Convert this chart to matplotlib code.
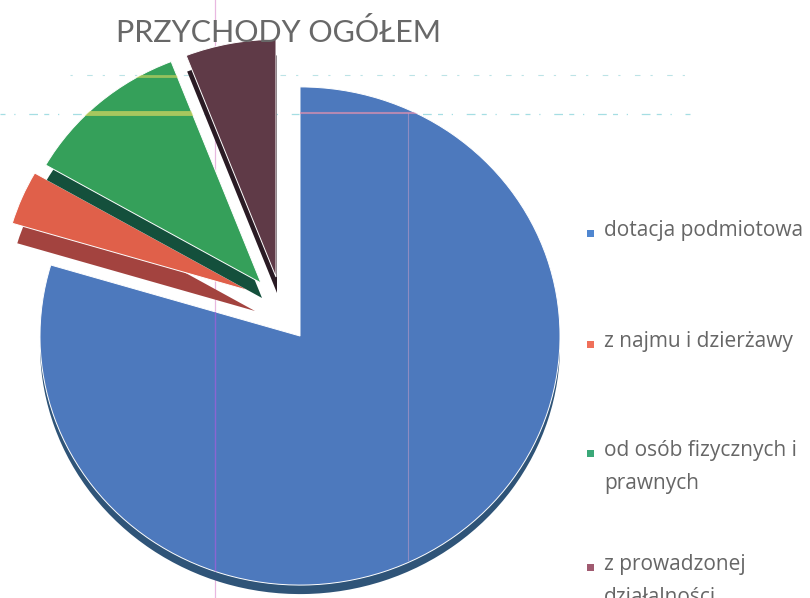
import matplotlib
matplotlib.use('Agg')
import matplotlib.pyplot as plt
from matplotlib.patches import Rectangle

plt.rcParams['font.family'] = ['Open Sans', 'DejaVu Sans']

labels = ['dotacja podmiotowa', 'z najmu i dzierżawy', 'od osób fizycznych i\nprawnych', 'z prowadzonej\ndziałalności']
values = [79.6, 3.67, 10.83, 5.9]
colors = ['#4d79bd', '#e0604a', '#35a05a', '#5f3a47']
side_colors = ['#2f5478', '#a3433f', '#14503c', '#2a1b24']
legend_colors = ['#4f86d0', '#f0705a', '#3aa878', '#a05a70']

# srodki wycinkow w pikselach obrazka, promienie i przesuniecie boku
centers = [(300, 336), (250, 291), (261, 283), (276, 277)]
radii = [260, 248, 248, 248]
side_dx = [0, 5, 1, 1]
side_dy = [9, 20, 15, 16]
legend_y = [233, 344, 453, 567]

H = 598
yscale = 0.958


def py(y):
    return (H - y) / yscale


fig = plt.figure(figsize=(8.10, 5.98), dpi=100)
ax = fig.add_axes([0, 0, 1, 1])

side, _ = ax.pie(values, colors=side_colors, startangle=90, counterclock=False, frame=False,
                 wedgeprops={'linewidth': 0})
top, _ = ax.pie(values, colors=colors, startangle=90, counterclock=False, frame=False,
                wedgeprops={'linewidth': 0.7, 'edgecolor': 'white'})

for i in range(len(values)):
    x, y = centers[i]
    side[i].set_center((x + side_dx[i], py(y + side_dy[i])))
    side[i].set_radius(radii[i])
    side[i].set_zorder(2 + 2 * i)
    top[i].set_center((x, py(y)))
    top[i].set_radius(radii[i])
    top[i].set_zorder(3 + 2 * i)

ax.set_aspect('auto')
ax.set_xlim(0, 810)
ax.set_ylim(0, H / yscale)
ax.axis('off')

# slady ze skanu
ax.axvline(215, color='#e8b8e0', lw=0.9, zorder=1)
line = ax.axvline(215, color='#9a60d8', lw=1.0, alpha=0.8, zorder=12)
line.set_clip_path(top[0])
line = ax.plot([408, 408], [py(113), py(560)], color='#d0a0c8', lw=0.8, alpha=0.5, zorder=12)[0]
line.set_clip_path(top[0])
band = ax.axhline(py(113), color='#d8d860', lw=3.5, alpha=0.7, zorder=12)
band.set_clip_path(top[2])
band = ax.axhline(py(76), color='#d8d860', lw=2, alpha=0.6, zorder=12)
band.set_clip_path(top[2])
band = ax.axhline(py(113), color='#e090b0', lw=1.5, alpha=0.7, zorder=12)
band.set_clip_path(top[0])
ax.plot([0, 690], [py(114)] * 2, color='#7fd0d8', lw=0.9, ls=(0, (4, 7, 1, 11, 7, 5)), alpha=0.7, zorder=1)
ax.plot([70, 690], [py(75)] * 2, color='#a0d8dc', lw=0.8, ls=(0, (2, 13, 5, 9)), alpha=0.7, zorder=1)

fig.text(278 / 810, 1 - 32 / H, 'PRZYCHODY OGÓŁEM', fontsize=22, color='#686868', ha='center', va='center',
         family=['Lato', 'Open Sans'], zorder=20)

for lab, c, y in zip(labels, legend_colors, legend_y):
    fig.patches.append(Rectangle((587 / 810, 1 - (y + 3.5) / H), 7 / 810, 7 / H, transform=fig.transFigure,
                                 facecolor=c, edgecolor='none', figure=fig))
    fig.text(604 / 810, 1 - (y - 13) / H, lab, fontsize=15, color='#666666', ha='left', va='top', linespacing=1.72)

fig.savefig('out.png', dpi=100)
